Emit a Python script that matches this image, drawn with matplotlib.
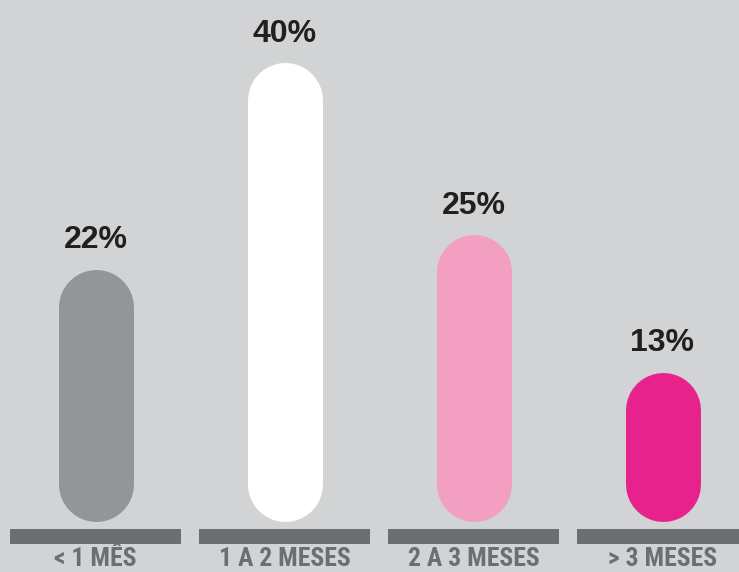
import matplotlib
matplotlib.use('Agg')
import matplotlib.pyplot as plt
from matplotlib import font_manager

categories = ['< 1 MÊS', '1 A 2 MESES', '2 A 3 MESES', '> 3 MESES']
values = [22, 40, 25, 13]
colors = ['#939598', '#ffffff', '#f29fc2', '#e8228d']

bg = '#d1d3d4'
base_color = '#6d6e71'
label_color = '#231f20'

DPI = 100
W, H = 739, 572
px_x = 189.0     # pixels per category step
px_y = 11.45     # pixels per percent point
x0_px = 95.5     # centre of first category
y0_px = 51.0     # baseline height from the bottom edge


def narrow_font():
    # prefer a condensed bold face for the category names
    fonts = font_manager.fontManager.ttflist
    names = {f.name for f in fonts}
    for n in ['Liberation Sans Narrow', 'Roboto Condensed', 'Open Sans Condensed']:
        if n in names:
            return n, 'normal'
    for f in fonts:
        if f.name == 'DejaVu Sans' and f.stretch == 'condensed':
            return 'DejaVu Sans', 'condensed'
    return 'Liberation Sans', 'normal'


fig = plt.figure(figsize=(W / DPI, H / DPI), dpi=DPI, facecolor=bg)
ax = fig.add_axes([0, 0, 1, 1])
ax.set_facecolor(bg)
ax.set_xlim(-x0_px / px_x, (W - x0_px) / px_x)
ax.set_ylim(-y0_px / px_y, (H - y0_px) / px_y)
ax.axis('off')

pt = 72.0 / DPI
bar_w = 75.0
r = bar_w / 2 / px_y

for i, (v, c) in enumerate(zip(values, colors)):
    # pill-shaped bar: thick line with round caps
    ax.plot([i, i], [r, v - r], color=c, lw=bar_w * pt,
            solid_capstyle='round', zorder=3)
    ax.annotate(f'{v}%', (i, v), xytext=(0, 21 * pt), textcoords='offset points',
                ha='center', va='baseline', fontsize=23, fontweight='bold',
                family=['Liberation Sans', 'DejaVu Sans'], color=label_color)

# grey strips under each category
xs = list(range(len(categories)))
ax.bar(xs, 15 / px_y, width=171 / px_x, bottom=-23 / px_y,
       color=base_color, zorder=2)

fam, stretch = narrow_font()
cat_texts = []
for i, cat in enumerate(categories):
    t = ax.annotate(cat, (i, 0), xytext=(0, -50.5 * pt), textcoords='offset points',
                    ha='center', va='bottom', fontsize=20, fontweight='bold',
                    family=[fam, 'DejaVu Sans'], fontstretch=stretch,
                    color=base_color, annotation_clip=False)
    cat_texts.append(t)

# shrink the category names so "1 A 2 MESES" is about 132 px wide
renderer = fig.canvas.get_renderer()
w = cat_texts[1].get_window_extent(renderer).width
size = min(20, 20 * 132.0 / w)
for t in cat_texts:
    t.set_fontsize(size)

fig.savefig('out.png', dpi=DPI, facecolor=bg)
